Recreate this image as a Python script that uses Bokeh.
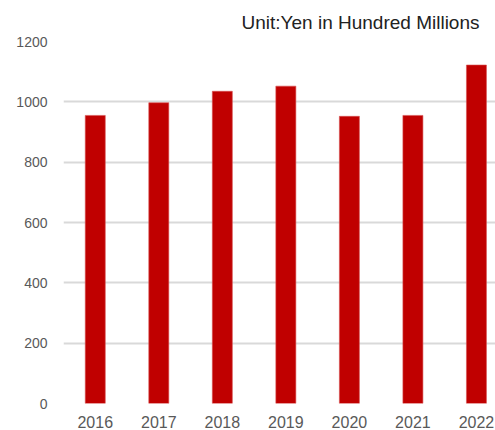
from bokeh.plotting import figure
from bokeh.models import Range1d, FixedTicker, Title, ColumnDataSource
from bokeh.embed import file_html
from bokeh.resources import INLINE

years = ["2016", "2017", "2018", "2019", "2020", "2021", "2022"]
values = [955, 997, 1035, 1052, 952, 955, 1122]
y_ticks = [0, 200, 400, 600, 800, 1000, 1200]
unit_label = "Unit:Yen in Hundred Millions"

xs = list(range(len(years)))
src = ColumnDataSource(dict(x=xs, top=values, year=years))

p = figure(width=495, height=430, output_backend="svg", toolbar_location=None,
           x_range=Range1d(-0.5, 6.3), y_range=Range1d(0, 1200),
           min_border_left=63, min_border_right=0, min_border_top=41,
           min_border_bottom=27)
p.outline_line_color = None
p.background_fill_color = "white"
p.border_fill_color = "white"

p.vbar(x="x", top="top", width=0.315, source=src, fill_color="#C00000",
       line_color="#d65050", line_width=0.6)

p.add_layout(Title(text=unit_label, align="right", offset=16, standoff=17,
                   text_font="Liberation Sans", text_font_size="19px",
                   text_font_style="normal", text_color="#222222"), "above")

p.xaxis.ticker = FixedTicker(ticks=xs)
p.xaxis.major_label_overrides = {i: y for i, y in enumerate(years)}
p.xaxis.axis_line_color = None
p.xaxis.major_tick_line_color = None
p.xaxis.minor_tick_line_color = None
p.xaxis.major_label_standoff = 6
p.xaxis.major_label_text_font = "Liberation Sans"
p.xaxis.major_label_text_font_size = "16px"
p.xaxis.major_label_text_color = "#595959"

p.yaxis.ticker = FixedTicker(ticks=y_ticks)
p.yaxis.axis_line_color = None
p.yaxis.major_tick_line_color = None
p.yaxis.minor_tick_line_color = None
p.yaxis.major_label_standoff = 10
p.yaxis.major_label_text_font = "Liberation Sans"
p.yaxis.major_label_text_font_size = "14px"
p.yaxis.major_label_text_color = "#595959"

p.xgrid.grid_line_color = None
p.ygrid.grid_line_color = "#d9d9d9"
p.ygrid.grid_line_width = 2

open("out.html", "w").write(file_html(p, INLINE))
